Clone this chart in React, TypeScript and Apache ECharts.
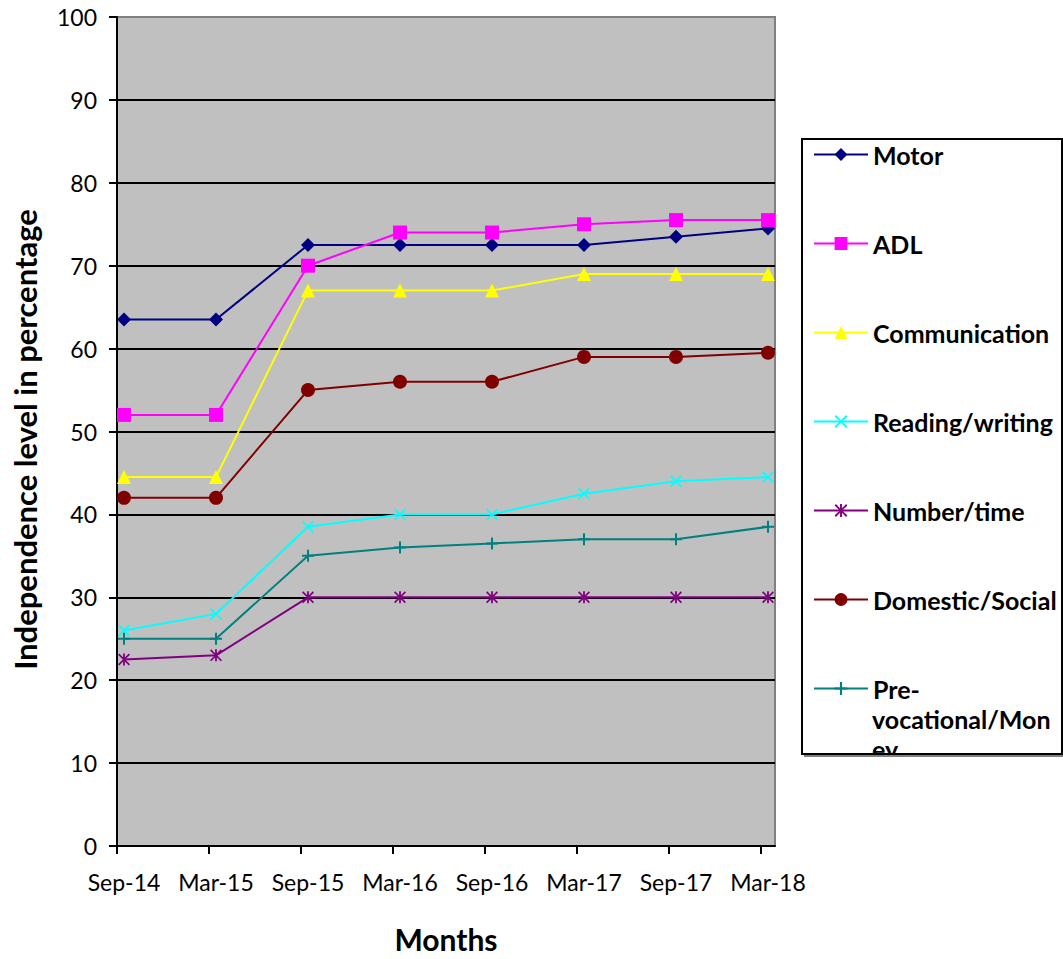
import React, { useEffect, useRef } from "react";
import * as echarts from "echarts";

const categories = ["Sep-14", "Mar-15", "Sep-15", "Mar-16", "Sep-16", "Mar-17", "Sep-17", "Mar-18"];
const motor = [63.5, 63.5, 72.5, 72.5, 72.5, 72.5, 73.5, 74.5];
const adl = [52, 52, 70, 74, 74, 75, 75.5, 75.5];
const communication = [44.5, 44.5, 67, 67, 67, 69, 69, 69];
const readingWriting = [26, 28, 38.5, 40, 40, 42.5, 44, 44.5];
const numberTime = [22.5, 23, 30, 30, 30, 30, 30, 30];
const domesticSocial = [42, 42, 55, 56, 56, 59, 59, 59.5];
const preVocational = [25, 25, 35, 36, 36.5, 37, 37, 38.5];
const yTicks = [0, 10, 20, 30, 40, 50, 60, 70, 80, 90, 100];

const X_PATH = "path://M0,1.2 L1.2,0 L6,4.8 L10.8,0 L12,1.2 L7.2,6 L12,10.8 L10.8,12 L6,7.2 L1.2,12 L0,10.8 L4.8,6 Z";
const STAR_PATH = "path://M0,1.2 L1.2,0 L6,4.8 L10.8,0 L12,1.2 L7.2,6 L12,10.8 L10.8,12 L6,7.2 L1.2,12 L0,10.8 L4.8,6 Z M5.1,0 L6.9,0 L6.9,12 L5.1,12 Z";
const PLUS_PATH = "path://M5,0 L7,0 L7,5 L12,5 L12,7 L7,7 L7,12 L5,12 L5,7 L0,7 L0,5 L5,5 Z";

const seriesDefs = [
  { name: "Motor", data: motor, color: "#000080", symbol: "diamond", size: 14 },
  { name: "ADL", data: adl, color: "#FF00FF", symbol: "rect", size: 14 },
  { name: "Communication", data: communication, color: "#FFFF00", symbol: "triangle", size: 14 },
  { name: "Reading/writing", data: readingWriting, color: "#00FFFF", symbol: X_PATH, size: 12 },
  { name: "Number/time", data: numberTime, color: "#800080", symbol: STAR_PATH, size: 12 },
  { name: "Domestic/Social", data: domesticSocial, color: "#800000", symbol: "circle", size: 14 },
  { name: "Pre-vocational/Money", data: preVocational, color: "#008080", symbol: PLUS_PATH, size: 12 },
];

const FONT = "Lato";
const OFF = 7 / 92;

export default function App() {
  const ref = useRef<HTMLDivElement>(null);
  useEffect(() => {
    document.body.style.margin = "0";
    if (!ref.current) return;
    const chart = echarts.init(ref.current, null, { renderer: "svg" });
    const tickVals = categories.map((_, i) => i - OFF);
    const labelVals = categories.map((_, i) => i);
    const splitColors = yTicks.map((v) => (v === 100 ? "#808080" : "#000000"));
    chart.setOption({
      animation: false,
      backgroundColor: "#ffffff",
      grid: {
        left: 117,
        top: 17,
        width: 658,
        bottom: 109,
        show: true,
        backgroundColor: "#C0C0C0",
        borderColor: "#808080",
        borderWidth: 2,
      },
      xAxis: {
        type: "value",
        min: -OFF,
        max: categories.length - 1 + OFF,
        name: "Months",
        nameLocation: "middle",
        nameGap: 78,
        nameTextStyle: { fontFamily: FONT, fontWeight: "bold", fontSize: 30, color: "#000" },
        splitLine: { show: false },
        axisLine: { show: true, onZero: false, lineStyle: { color: "#000", width: 2 } },
        axisTick: { show: true, customValues: tickVals, length: 8, lineStyle: { color: "#000", width: 2 } },
        axisLabel: {
          customValues: labelVals,
          formatter: (v: number) => categories[Math.round(v)] ?? "",
          fontFamily: FONT,
          fontSize: 23,
          color: "#000",
          margin: 24,
        },
      },
      yAxis: {
        type: "value",
        min: 0,
        max: 100,
        interval: 10,
        name: "Independence level in percentage",
        nameLocation: "middle",
        nameGap: 77,
        nameTextStyle: { fontFamily: FONT, fontWeight: "bold", fontSize: 31, color: "#000", padding: [0, 16, 0, 0] },
        axisLine: { show: true, onZero: false, lineStyle: { color: "#000", width: 2 } },
        axisTick: { show: true, length: 8, lineStyle: { color: "#000", width: 2 } },
        axisLabel: { fontFamily: FONT, fontSize: 23, color: "#000", margin: 20 },
        splitLine: { show: true, lineStyle: { color: splitColors, width: 2 } },
      },
      legend: {
        orient: "vertical",
        left: 813,
        top: 142,
        padding: 0,
        itemGap: 64,
        itemWidth: 54,
        itemHeight: 16,
        data: seriesDefs.map((s) => s.name),
        formatter: (name: string) => (name === "Pre-vocational/Money" ? "Pre-" : name),
        textStyle: { fontFamily: FONT, fontWeight: "bold", fontSize: 25, color: "#000", lineHeight: 24 },
      },
      graphic: [
        {
          type: "rect",
          z: 1,
          shape: { x: 802, y: 139, width: 260, height: 615 },
          style: { fill: "#ffffff", stroke: "none" },
        },
        {
          type: "text",
          z: 5,
          x: 872,
          y: 704,
          style: {
            text: "vocational/Mon\ney",
            font: `bold 25px ${FONT}`,
            fill: "#000",
            lineHeight: 30,
            verticalAlign: "top",
          },
        },
        {
          type: "rect",
          z: 9,
          shape: { x: 800, y: 755, width: 263, height: 40 },
          style: { fill: "#ffffff", stroke: "none" },
        },
        {
          type: "line",
          z: 10,
          shape: { x1: 804, y1: 756, x2: 1063, y2: 756 },
          style: { stroke: "#808080", lineWidth: 2 },
        },
        {
          type: "rect",
          z: 10,
          shape: { x: 802, y: 139, width: 260, height: 615 },
          style: { fill: "none", stroke: "#000000", lineWidth: 2 },
        },
      ],
      series: seriesDefs.map((s) => ({
        name: s.name,
        type: "line",
        data: s.data.map((v, i) => [i, v]),
        symbol: s.symbol,
        symbolSize: s.size,
        showSymbol: true,
        color: s.color,
        lineStyle: { color: s.color, width: 2 },
        itemStyle: { color: s.color, borderWidth: 0 },
        emphasis: { disabled: true },
        z: 3,
      })),
    });
    return () => chart.dispose();
  }, []);
  return <div ref={ref} style={{ width: 1063, height: 959 }} />;
}
